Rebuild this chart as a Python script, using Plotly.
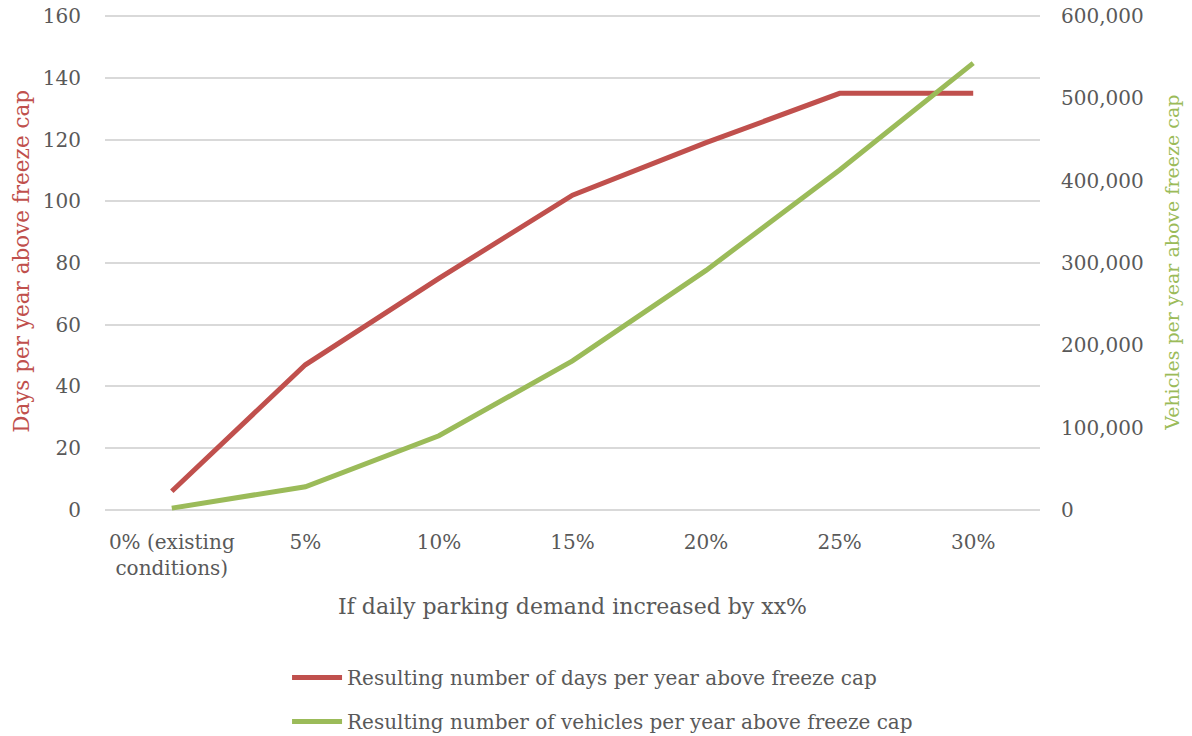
import plotly.graph_objects as go

categories = ["0% (existing<br>conditions)", "5%", "10%", "15%", "20%", "25%", "30%"]
days_above_cap = [6, 47, 75, 102, 119, 135, 135]
vehicles_above_cap = [2000, 28000, 90000, 181000, 291000, 413000, 543000]

RED = "#C0504D"
GREEN = "#9BBB59"
GREY = "#595959"
FONT = "DejaVu Serif"

fig = go.Figure()
fig.add_trace(go.Scatter(
    x=categories, y=days_above_cap, mode="lines",
    name="Resulting number of days per year above freeze cap",
    line=dict(color=RED, width=5), legendgroup="a", yaxis="y"))
fig.add_trace(go.Scatter(
    x=categories, y=vehicles_above_cap, mode="lines",
    name="Resulting number of vehicles per year above freeze cap",
    line=dict(color=GREEN, width=5), legendgroup="b", yaxis="y2"))

fig.update_layout(
    width=1192, height=736,
    margin=dict(l=105, r=152, t=15, b=225),
    paper_bgcolor="white", plot_bgcolor="white",
    font=dict(family=FONT, size=20, color=GREY),
    xaxis=dict(type="category", range=[-0.5, 6.5], showgrid=False,
               showline=False, ticks="", tickfont=dict(size=20, color=GREY),
               ticklabelstandoff=17, automargin=False),
    yaxis=dict(range=[-0.4, 160.4], tickvals=[0, 20, 40, 60, 80, 100, 120, 140, 160],
               showgrid=True, gridcolor="#D9D9D9",
               gridwidth=1.5, zeroline=False, showline=False,
               tickfont=dict(size=20, color=GREY), ticklabelstandoff=23,
               ticklabeloverflow="allow", automargin=False),
    yaxis2=dict(range=[-1500, 601500],
                tickvals=[0, 100000, 200000, 300000, 400000, 500000, 600000],
                overlaying="y", side="right",
                showgrid=False, zeroline=False, showline=False,
                tickformat=",d", tickfont=dict(size=20, color=GREY),
                ticklabelstandoff=20, ticklabeloverflow="allow", automargin=False),
    annotations=[
        dict(text="If daily parking demand increased by xx%", xref="paper", yref="paper",
             x=0.5, y=-0.1935, xanchor="center", yanchor="middle", showarrow=False,
             font=dict(size=22, color=GREY)),
        dict(text="Days per year above freeze cap", xref="paper", yref="paper",
             x=-0.0895, y=0.503, xanchor="center", yanchor="middle", textangle=-90,
             showarrow=False, font=dict(size=21.5, color=RED)),
        dict(text="Vehicles per year above freeze cap", xref="paper", yref="paper",
             x=1.141, y=0.50, xanchor="center", yanchor="middle", textangle=-90,
             showarrow=False, font=dict(size=19, color=GREEN)),
    ],
    showlegend=True,
    legend=dict(orientation="v", x=0.1947, xanchor="left",
                yref="container", y=0.106, yanchor="top",
                font=dict(size=20, color=GREY), traceorder="grouped",
                tracegroupgap=15, bgcolor="rgba(0,0,0,0)", itemwidth=50),
)

fig.write_html("out.html", config={"displayModeBar": False},
               post_script="document.body.style.margin='0';")
